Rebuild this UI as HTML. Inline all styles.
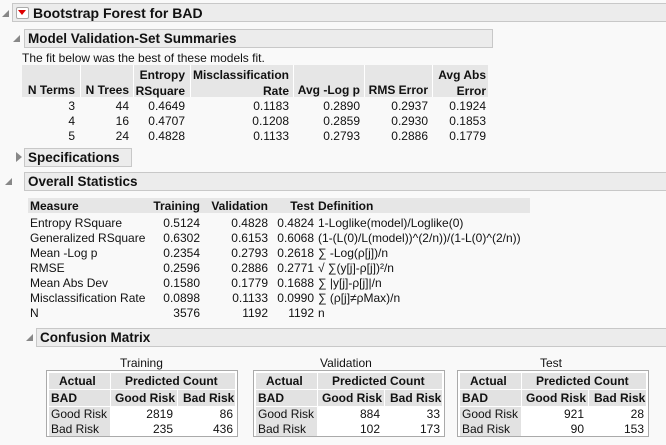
<!DOCTYPE html>
<html><head><style>
body{margin:0;width:666px;height:445px;background:#f9f9f9;font-family:"Liberation Sans",sans-serif;font-size:12px;color:#111;position:relative;overflow:hidden}
.a{position:absolute;white-space:nowrap}
.hdr{position:absolute;background:#ececec;border:1px solid #c8c8c8;font-weight:bold;font-size:13.5px;line-height:18px;padding-left:3px;box-sizing:border-box;height:19px}
.tri{position:absolute;width:0;height:0;border-left:7px solid transparent;border-bottom:7px solid #888}
.trir{position:absolute;width:0;height:0;border-top:5px solid transparent;border-bottom:5px solid transparent;border-left:6px solid #888}
.r{text-align:right}
.b{font-weight:bold}
.cm{position:absolute;border:1px solid #aaa;background:#fff;width:192px;height:67px;box-sizing:border-box}
.cm div{position:absolute;white-space:nowrap}
</style></head><body>
<div class="tri" style="left:2px;top:10px"></div>
<div class="hdr" style="left:12px;top:3px;width:660px;height:19px;font-size:14px;padding-left:20px">Bootstrap Forest for BAD</div>
<div class="a" style="left:16px;top:7px;width:11px;height:10px;background:#fff;border:1px solid #aaa;border-radius:2px"></div>
<div class="a" style="left:18px;top:10px;width:0;height:0;border-left:4px solid transparent;border-right:4px solid transparent;border-top:5px solid #d00"></div>

<div class="tri" style="left:13px;top:35px"></div>
<div class="hdr" style="left:24px;top:29px;width:469px">Model Validation-Set Summaries</div>
<div class="a" style="left:22px;top:51px">The fit below was the best of these models fit.</div>
<div class="a" style="left:22px;top:65px;width:466px;height:32px;background:#e6e6e6"></div>
<div class="a" style="left:80px;top:65px;width:1px;height:32px;background:#fff"></div>
<div class="a" style="left:133px;top:65px;width:1px;height:32px;background:#fff"></div>
<div class="a" style="left:190px;top:65px;width:1px;height:32px;background:#fff"></div>
<div class="a" style="left:293px;top:65px;width:1px;height:32px;background:#fff"></div>
<div class="a" style="left:364px;top:65px;width:1px;height:32px;background:#fff"></div>
<div class="a" style="left:432px;top:65px;width:1px;height:32px;background:#fff"></div>
<div class="a b r" style="right:591px;top:83px">N Terms</div>
<div class="a b r" style="right:537px;top:83px">N Trees</div>
<div class="a b r" style="right:481px;top:67px;line-height:16px">Entropy<br>RSquare</div>
<div class="a b r" style="right:377px;top:67px;line-height:16px">Misclassification<br>Rate</div>
<div class="a b r" style="right:306px;top:83px">Avg -Log p</div>
<div class="a b r" style="right:238px;top:83px">RMS Error</div>
<div class="a b r" style="right:180px;top:67px;line-height:16px">Avg Abs<br>Error</div>
<div class="a r" style="right:591px;top:99px;line-height:15px">3<br>4<br>5</div>
<div class="a r" style="right:537px;top:99px;line-height:15px">44<br>16<br>24</div>
<div class="a r" style="right:481px;top:99px;line-height:15px">0.4649<br>0.4707<br>0.4828</div>
<div class="a r" style="right:377px;top:99px;line-height:15px">0.1183<br>0.1208<br>0.1133</div>
<div class="a r" style="right:306px;top:99px;line-height:15px">0.2890<br>0.2859<br>0.2793</div>
<div class="a r" style="right:238px;top:99px;line-height:15px">0.2937<br>0.2930<br>0.2886</div>
<div class="a r" style="right:180px;top:99px;line-height:15px">0.1924<br>0.1853<br>0.1779</div>

<div class="trir" style="left:16px;top:152px"></div>
<div class="hdr" style="left:24px;top:148px;width:108px">Specifications</div>

<div class="tri" style="left:5px;top:178px"></div>
<div class="hdr" style="left:24px;top:172px;width:650px">Overall Statistics</div>
<div class="a" style="left:28px;top:198px;width:502px;height:15px;background:#e6e6e6"></div>
<div class="a b" style="left:30px;top:199px">Measure</div>
<div class="a b r" style="right:466px;top:199px">Training</div>
<div class="a b r" style="right:398px;top:199px">Validation</div>
<div class="a b r" style="right:352px;top:199px">Test</div>
<div class="a b" style="left:318px;top:199px">Definition</div>
<div class="a" style="left:30px;top:216px;line-height:15px">Entropy RSquare<br>Generalized RSquare<br>Mean -Log p<br>RMSE<br>Mean Abs Dev<br>Misclassification Rate<br>N</div>
<div class="a r" style="right:466px;top:216px;line-height:15px">0.5124<br>0.6302<br>0.2354<br>0.2596<br>0.1580<br>0.0898<br>3576</div>
<div class="a r" style="right:398px;top:216px;line-height:15px">0.4828<br>0.6153<br>0.2793<br>0.2886<br>0.1779<br>0.1133<br>1192</div>
<div class="a r" style="right:352px;top:216px;line-height:15px">0.4824<br>0.6068<br>0.2618<br>0.2771<br>0.1688<br>0.0990<br>1192</div>
<div class="a" style="left:318px;top:216px;line-height:15px">1-Loglike(model)/Loglike(0)<br>(1-(L(0)/L(model))^(2/n))/(1-L(0)^(2/n))<br>∑ -Log(ρ[j])/n<br>√ ∑(y[j]-ρ[j])²/n<br>∑ |y[j]-ρ[j]|/n<br>∑ (ρ[j]≠ρMax)/n<br>n</div>

<div class="tri" style="left:26px;top:334px"></div>
<div class="hdr" style="left:36px;top:328px;width:640px">Confusion Matrix</div>

<div class="a" style="left:120px;top:356px">Training</div>
<div class="a" style="left:320px;top:356px">Validation</div>
<div class="a" style="left:540px;top:356px">Test</div>

<div class="cm" style="left:46px;top:370px">
<div style="left:2px;top:2px;width:186px;height:16px;background:#e2e2e2"></div>
<div style="left:2px;top:19px;width:186px;height:16px;background:#e2e2e2"></div>
<div style="left:2px;top:36px;width:61px;height:29px;background:#e2e2e2"></div>
<div style="left:63px;top:2px;width:1px;height:63px;background:#fff"></div>
<div style="left:130px;top:19px;width:1px;height:16px;background:#fff"></div>
<div class="b" style="left:12px;top:3px">Actual</div>
<div class="b" style="left:78px;top:3px">Predicted Count</div>
<div class="b" style="left:4px;top:20px">BAD</div>
<div class="b" style="left:68px;top:20px">Good Risk</div>
<div class="b" style="left:136px;top:20px">Bad Risk</div>
<div style="left:4px;top:36px;line-height:15px">Good Risk<br>Bad Risk</div>
<div class="r" style="right:64px;top:36px;line-height:15px">2819<br>235</div>
<div class="r" style="right:4px;top:36px;line-height:15px">86<br>436</div>
</div>

<div class="cm" style="left:253px;top:370px">
<div style="left:2px;top:2px;width:186px;height:16px;background:#e2e2e2"></div>
<div style="left:2px;top:19px;width:186px;height:16px;background:#e2e2e2"></div>
<div style="left:2px;top:36px;width:61px;height:29px;background:#e2e2e2"></div>
<div style="left:63px;top:2px;width:1px;height:63px;background:#fff"></div>
<div style="left:130px;top:19px;width:1px;height:16px;background:#fff"></div>
<div class="b" style="left:12px;top:3px">Actual</div>
<div class="b" style="left:78px;top:3px">Predicted Count</div>
<div class="b" style="left:4px;top:20px">BAD</div>
<div class="b" style="left:68px;top:20px">Good Risk</div>
<div class="b" style="left:136px;top:20px">Bad Risk</div>
<div style="left:4px;top:36px;line-height:15px">Good Risk<br>Bad Risk</div>
<div class="r" style="right:64px;top:36px;line-height:15px">884<br>102</div>
<div class="r" style="right:4px;top:36px;line-height:15px">33<br>173</div>
</div>

<div class="cm" style="left:457px;top:370px">
<div style="left:2px;top:2px;width:186px;height:16px;background:#e2e2e2"></div>
<div style="left:2px;top:19px;width:186px;height:16px;background:#e2e2e2"></div>
<div style="left:2px;top:36px;width:61px;height:29px;background:#e2e2e2"></div>
<div style="left:63px;top:2px;width:1px;height:63px;background:#fff"></div>
<div style="left:130px;top:19px;width:1px;height:16px;background:#fff"></div>
<div class="b" style="left:12px;top:3px">Actual</div>
<div class="b" style="left:78px;top:3px">Predicted Count</div>
<div class="b" style="left:4px;top:20px">BAD</div>
<div class="b" style="left:68px;top:20px">Good Risk</div>
<div class="b" style="left:136px;top:20px">Bad Risk</div>
<div style="left:4px;top:36px;line-height:15px">Good Risk<br>Bad Risk</div>
<div class="r" style="right:64px;top:36px;line-height:15px">921<br>90</div>
<div class="r" style="right:4px;top:36px;line-height:15px">28<br>153</div>
</div>
</body></html>
